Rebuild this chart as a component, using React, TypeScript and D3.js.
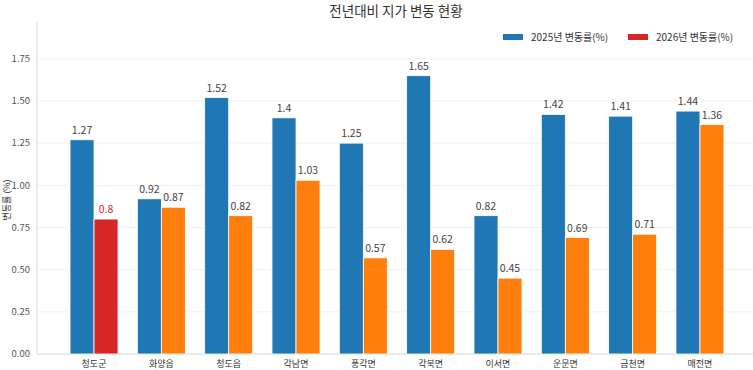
import * as d3 from "d3";

const categories = ["청도군", "화양읍", "청도읍", "각남면", "풍각면", "각북면", "이서면", "운문면", "금천면", "매전면"];
const values2025 = [1.27, 0.92, 1.52, 1.4, 1.25, 1.65, 0.82, 1.42, 1.41, 1.44];
const values2026 = [0.8, 0.87, 0.82, 1.03, 0.57, 0.62, 0.45, 0.69, 0.71, 1.36];
const yTicks = [0, 0.25, 0.5, 0.75, 1.0, 1.25, 1.5, 1.75];
const seriesNames = ["2025년 변동률(%)", "2026년 변동률(%)"];

const width = 753;
const height = 370;
const margin = { top: 20, right: -4, bottom: 16, left: 37 };

const blue = "#1f77b4";
const orange = "#ff7f0e";
const red = "#d62728";
const font = "'Noto Sans CJK KR', 'Noto Sans', sans-serif";

export default function App() {
  const x = d3.scaleBand<string>()
    .domain(categories)
    .range([margin.left, width - margin.right])
    .paddingInner(0)
    .paddingOuter(0.347);

  const y = d3.scaleLinear()
    .domain([0, 1.98])
    .range([height - margin.bottom, margin.top]);

  const barW = 24;
  const fmt = (v: number) => String(v);

  return (
    <svg width={width} height={height} style={{ position: "absolute", left: 0, top: 0, background: "#fff" }} fontFamily={font}>
      {/* grid */}
      {yTicks.map((t) => (
        <g key={t}>
          <line x1={margin.left} x2={width} y1={y(t)} y2={y(t)} stroke="#f0f0f0" strokeWidth={1} />
          <text x={margin.left - 7} y={y(t)} dy="0.35em" textAnchor="end" fontSize={9.5} fill="#555">
            {t.toFixed(2)}
          </text>
        </g>
      ))}
      <line x1={margin.left} x2={margin.left} y1={margin.top + 2} y2={y(0)} stroke="#ddd" />
      <line x1={margin.left} x2={width} y1={y(0)} y2={y(0)} stroke="#ddd" />

      {/* bars */}
      {categories.map((c, i) => {
        const cx = (x(c) ?? 0) + x.bandwidth() / 2;
        const col2 = i === 0 ? red : orange;
        const v1 = values2025[i];
        const v2 = values2026[i];
        return (
          <g key={c}>
            <rect x={cx - barW} y={y(v1)} width={barW} height={y(0) - y(v1)} fill={blue} stroke="#fff" strokeWidth={0.8} />
            <rect x={cx} y={y(v2)} width={barW} height={y(0) - y(v2)} fill={col2} stroke="#fff" strokeWidth={0.8} />
            <text x={cx - barW / 2} y={y(v1) - 6} textAnchor="middle" fontSize={10.5} fill="#444">{fmt(v1)}</text>
            <text x={cx + barW / 2} y={y(v2) - 6} textAnchor="middle" fontSize={10.5} fill={i === 0 ? red : "#444"}>{fmt(v2)}</text>
            <text x={cx} y={y(0) + 13} textAnchor="middle" fontSize={9} fill="#333">{c}</text>
          </g>
        );
      })}

      {/* title */}
      <text x={396} y={16} textAnchor="middle" fontSize={13.5} fill="#333">전년대비 지가 변동 현황</text>

      {/* y label */}
      <text transform={`translate(10, 200) rotate(-90)`} textAnchor="middle" fontSize={9} fill="#333">변동률 (%)</text>

      {/* legend */}
      {seriesNames.map((s, i) => {
        const lx = i === 0 ? 503 : 628;
        return (
          <g key={s}>
            <rect x={lx} y={34} width={20} height={6} fill={i === 0 ? blue : red} />
            <text x={lx + 28} y={37} dy="0.35em" fontSize={10} fill="#333">{s}</text>
          </g>
        );
      })}
    </svg>
  );
}
